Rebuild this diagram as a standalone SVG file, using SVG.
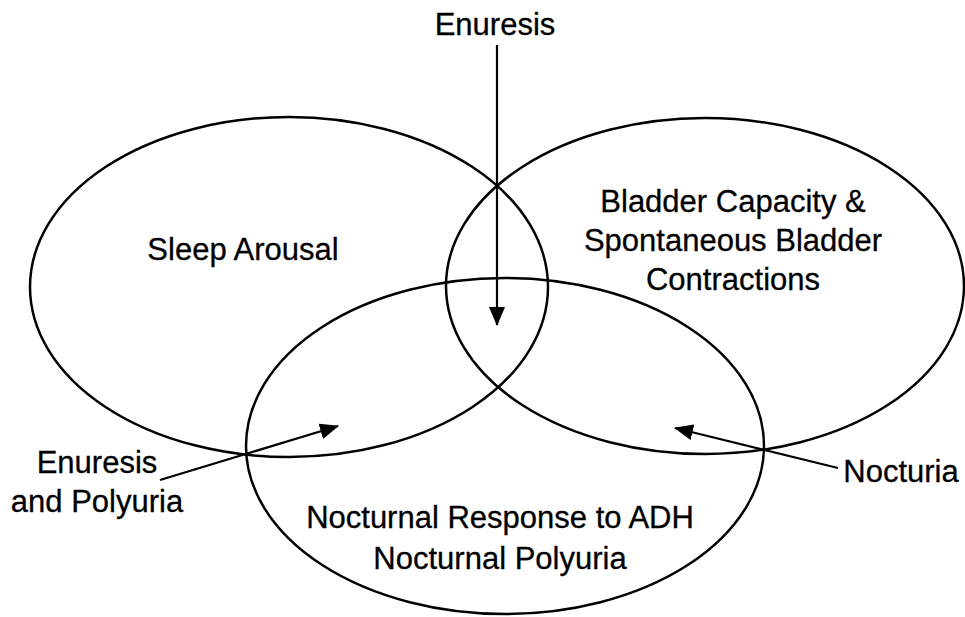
<svg xmlns="http://www.w3.org/2000/svg" width="965" height="617" viewBox="0 0 965 617">
<style>
.c{fill:none;stroke:#000;stroke-width:2.5}
.l{fill:none;stroke:#000;stroke-width:2.2}
text{font-family:"Liberation Sans",Arial,sans-serif;font-size:31px;fill:#000;text-anchor:middle;stroke:#000;stroke-width:0.3}
</style>
<defs>
<marker id="ah" markerWidth="20" markerHeight="16" refX="18" refY="8" orient="auto" markerUnits="userSpaceOnUse">
<path d="M0,0 L19,8 L0,16 Z" fill="#000"/>
</marker>
</defs>
<rect width="965" height="617" fill="#fff"/>
<g id="sleep-arousal">
<ellipse class="c" cx="289" cy="287" rx="259" ry="170"/>
<text x="243" y="260">Sleep Arousal</text>
</g>
<g id="bladder-capacity">
<ellipse class="c" cx="705" cy="286" rx="259" ry="168"/>
<text x="733" y="212">Bladder Capacity &amp;</text>
<text x="733" y="251">Spontaneous Bladder</text>
<text x="733" y="290">Contractions</text>
</g>
<g id="nocturnal-response">
<ellipse class="c" cx="505" cy="446" rx="259" ry="168"/>
<text x="500" y="528">Nocturnal Response to ADH</text>
<text x="500" y="569">Nocturnal Polyuria</text>
</g>
<g id="label-enuresis-top"><text x="495" y="35">Enuresis</text></g>
<g id="label-enuresis-polyuria">
<text x="97" y="473">Enuresis</text>
<text x="97" y="512">and Polyuria</text>
</g>
<g id="label-nocturia"><text x="901" y="482">Nocturia</text></g>
<g id="connectors">
<line class="l" x1="497" y1="45" x2="497" y2="325" marker-end="url(#ah)"/>
<line class="l" x1="160" y1="480" x2="338" y2="426" marker-end="url(#ah)"/>
<line class="l" x1="838" y1="468" x2="675" y2="428" marker-end="url(#ah)"/>
</g>
</svg>
